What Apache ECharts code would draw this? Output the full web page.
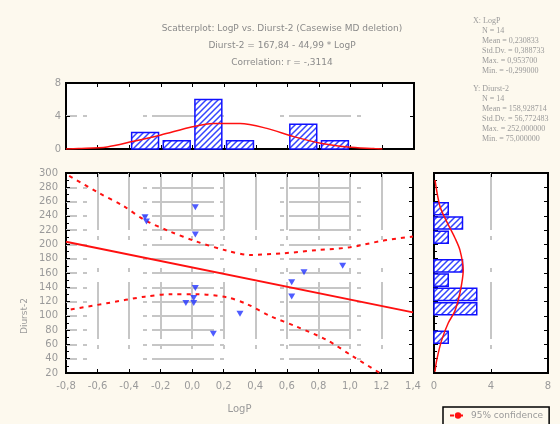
<!DOCTYPE html>
<html>
<head>
<meta charset="utf-8">
<script src="https://cdn.jsdelivr.net/npm/echarts@6/dist/echarts.min.js"></script>
<style>
  html, body { margin: 0; background: #fdf9ee; }
  #chart { width: 560px; height: 424px; }
</style>
</head>
<body>
<div id="chart"></div>
<script>
// scatter points (LogP, Diurst-2)
var logP    = [-0.299, -0.29, 0.02, 0.02, 0.02, -0.04, 0.01, 0.01, 0.134, 0.303, 0.631, 0.631, 0.709, 0.954];
var diurst2 = [238, 232, 252, 214, 139, 118, 118, 125, 75, 103, 147, 127, 161, 170];

// regression line end points and 95% confidence band
var fitX = [-0.8, 1.4];
var fitY = [203.8, 104.9];
var upperX = [-0.78, -0.595, -0.437, -0.30, -0.14, 0.029, 0.219, 0.367, 0.578, 0.79, 1.0, 1.21, 1.4];
var upperY = [296, 272.5, 253.9, 234, 218, 203.9, 191.3, 185.3, 187.6, 192, 196, 205.3, 211];
var lowerX = [-0.77, -0.542, -0.30, -0.14, 0.029, 0.219, 0.346, 0.494, 0.663, 0.853, 1.022, 1.19];
var lowerY = [109, 117.6, 126.9, 130.2, 130.2, 126, 116.6, 99.8, 84.8, 66.2, 42.8, 20];

// histogram of LogP (bins of 0.2)
var logPBinLo = [-0.8, -0.6, -0.4, -0.2, 0.0, 0.2, 0.4, 0.6, 0.8, 1.0, 1.2];
var logPCount = [0, 0, 2, 1, 6, 1, 0, 3, 1, 0, 0];
var logPCurveX = [-0.8, -0.72, -0.54, -0.38, -0.2, 0.0, 0.13, 0.30, 0.47, 0.64, 0.81, 0.98, 1.15, 1.2];
var logPCurveN = [0, 0.05, 0.25, 0.9, 1.7, 2.7, 3.1, 3.1, 2.5, 1.5, 0.7, 0.25, 0.05, 0];

// histogram of Diurst-2 (bins of 20)
var diuBinLo = [20, 40, 60, 80, 100, 120, 140, 160, 180, 200, 220, 240, 260, 280];
var diuCount = [0, 0, 1, 0, 3, 3, 1, 2, 0, 1, 2, 1, 0, 0];
var diuCurveY = [22, 38, 66, 90, 107, 132, 164, 192, 209, 232, 253, 290];
var diuCurveN = [0.07, 0.19, 0.54, 1.0, 1.47, 1.82, 2.05, 1.82, 1.47, 0.89, 0.42, 0.07];

var titleLines = [
  'Scatterplot: LogP vs. Diurst-2 (Casewise MD deletion)',
  'Diurst-2 = 167,84 - 44,99 * LogP',
  'Correlation: r = -,3114'
];
var statsX = ['N = 14', 'Mean = 0,230833', 'Std.Dv. = 0,388733', 'Max. = 0,953700', 'Min. = -0,299000'];
var statsY = ['N = 14', 'Mean = 158,928714', 'Std.Dv. = 56,772483', 'Max. = 252,000000', 'Min. = 75,000000'];

var GRAY = '#9a9a9a';
var FONT = 'DejaVu Sans';
var RED = '#ff1010';
var BLUE = '#2233ff';

// hatch fill for the histogram bars
var hatch = document.createElement('canvas');
hatch.width = hatch.height = 6;
(function () {
  var g = hatch.getContext('2d');
  g.fillStyle = '#fff';
  g.fillRect(0, 0, 6, 6);
  g.strokeStyle = '#3344ff';
  g.lineWidth = 1.5;
  g.beginPath();
  g.moveTo(0, 6); g.lineTo(6, 0);
  g.moveTo(-3, 3); g.lineTo(3, -3);
  g.moveTo(3, 9); g.lineTo(9, 3);
  g.stroke();
})();

function fmt1(v) {
  if (Math.abs(v) < 1e-9) v = 0;
  return v.toFixed(1).replace('.', ',');
}

var hGrid = { show: true, lineStyle: { color: '#c6c6c6', width: 2, type: [4, 5, 62, 6, 4, 56], dashOffset: 60 }, showMinLine: false, showMaxLine: false };
var vGrid = { show: true, lineStyle: { color: '#c6c6c6', width: 2, type: [57, 6, 4, 28, 4, 10], dashOffset: 0 }, showMinLine: false, showMaxLine: false };

function axis(extra) {
  var a = {
    type: 'value',
    axisLine: { show: false, onZero: false },
    axisLabel: { show: false },
    splitLine: { show: false },
    axisTick: { show: true, inside: true, length: 4, lineStyle: { color: '#000', width: 1 } }
  };
  for (var k in extra) a[k] = extra[k];
  return a;
}
function labels(extra) {
  var l = { show: true, color: GRAY, fontFamily: FONT, fontSize: 10, margin: 8 };
  for (var k in extra) l[k] = extra[k];
  return l;
}

function histItem(horizontal) {
  return function (params, api) {
    var lo = api.value(0), hi = api.value(1), n = api.value(2);
    if (!n) return null;
    var gap = 0.075 * (hi - lo);
    var p1, p2;
    if (horizontal) {
      p1 = api.coord([0, hi - gap]);
      p2 = api.coord([n, lo + gap]);
    } else {
      p1 = api.coord([lo + gap, n]);
      p2 = api.coord([hi - gap, 0]);
    }
    return {
      type: 'rect',
      shape: { x: p1[0], y: p1[1], width: p2[0] - p1[0], height: p2[1] - p1[1] },
      style: { fill: { image: hatch, repeat: 'repeat' }, stroke: '#1010ff', lineWidth: 1.5 }
    };
  };
}

function zip(a, b) {
  return a.map(function (v, i) { return [v, b[i]]; });
}

var logPBins = logPBinLo.map(function (lo, i) { return [lo, lo + 0.2, logPCount[i]]; });
var diuBins = diuBinLo.map(function (lo, i) { return [lo, lo + 20, diuCount[i]]; });

var gridBase = { show: true, backgroundColor: '#fff', borderColor: '#000', borderWidth: 2, outerBoundsMode: 'none' };
function grid(l, t, w, h) {
  var g = { left: l, top: t, width: w, height: h };
  for (var k in gridBase) g[k] = gridBase[k];
  return g;
}

var chart = echarts.init(document.getElementById('chart'));
chart.setOption({
  backgroundColor: '#fdf9ee',
  animation: false,
  grid: [
    grid(66, 83, 348, 66),
    grid(66, 173, 347, 200),
    grid(434, 173, 114, 200)
  ],
  xAxis: [
    axis({ gridIndex: 0, min: -0.8, max: 1.4, interval: 0.2 }),
    axis({ gridIndex: 0, position: 'top', min: -0.8, max: 1.4, interval: 0.2 }),
    axis({
      gridIndex: 1, min: -0.8, max: 1.4, interval: 0.2,
      axisLabel: labels({ formatter: fmt1 }),
      splitLine: vGrid,
      name: 'LogP', nameLocation: 'middle', nameGap: 31,
      nameTextStyle: { color: GRAY, fontFamily: FONT, fontSize: 10 }
    }),
    axis({ gridIndex: 1, position: 'top', min: -0.8, max: 1.4, interval: 0.2 }),
    axis({ gridIndex: 2, min: 0, max: 8, interval: 4, axisLabel: labels({}), splitLine: vGrid }),
    axis({ gridIndex: 2, position: 'top', min: 0, max: 8, interval: 4 })
  ],
  yAxis: [
    axis({ gridIndex: 0, min: 0, max: 8, interval: 4, axisLabel: labels({ margin: 5 }), splitLine: hGrid }),
    axis({ gridIndex: 0, position: 'right', min: 0, max: 8, interval: 4 }),
    axis({
      gridIndex: 1, min: 20, max: 300, interval: 20,
      axisLabel: labels({}),
      splitLine: hGrid,
      minorTick: { show: true, splitNumber: 2, length: 3, lineStyle: { color: '#000' } }
    }),
    axis({ gridIndex: 1, position: 'right', min: 20, max: 300, interval: 20 }),
    axis({
      gridIndex: 2, min: 20, max: 300, interval: 20,
      minorTick: { show: true, splitNumber: 2, length: 3, lineStyle: { color: '#000' } }
    }),
    axis({ gridIndex: 2, position: 'right', min: 20, max: 300, interval: 20 })
  ],
  legend: {
    data: ['95% confidence'],
    left: 443, top: 407,
    padding: [4, 6, 8, 6],
    itemWidth: 16, itemHeight: 8,
    selectedMode: false,
    borderColor: '#000', borderWidth: 1.5,
    textStyle: { color: GRAY, fontFamily: FONT, fontSize: 9 }
  },
  graphic: [
    {
      type: 'text', x: 282, y: 20,
      style: { text: titleLines.join('\n'), align: 'center', verticalAlign: 'top', lineHeight: 17,
               fill: '#8a8a8a', font: '9px "DejaVu Sans"' }
    },
    {
      type: 'text', x: 473, y: 16,
      style: { text: 'X: LogP', fill: GRAY, font: '8px "Liberation Serif"', lineHeight: 10 }
    },
    {
      type: 'text', x: 482, y: 26,
      style: { text: statsX.join('\n'), fill: GRAY, font: '8px "Liberation Serif"', lineHeight: 10 }
    },
    {
      type: 'text', x: 473, y: 84,
      style: { text: 'Y: Diurst-2', fill: GRAY, font: '8px "Liberation Serif"', lineHeight: 10 }
    },
    {
      type: 'text', x: 482, y: 94,
      style: { text: statsY.join('\n'), fill: GRAY, font: '8px "Liberation Serif"', lineHeight: 10 }
    },
    {
      type: 'text', x: 25, y: 316, rotation: Math.PI / 2,
      style: { text: 'Diurst-2', align: 'center', verticalAlign: 'middle', fill: GRAY, font: '9px "DejaVu Sans"' }
    }
  ],
  series: [
    {
      type: 'custom', xAxisIndex: 0, yAxisIndex: 0,
      renderItem: histItem(false), data: logPBins
    },
    {
      type: 'line', xAxisIndex: 0, yAxisIndex: 0, smooth: 0.3, symbol: 'none',
      lineStyle: { color: RED, width: 1.5 }, data: zip(logPCurveX, logPCurveN)
    },
    {
      type: 'custom', xAxisIndex: 4, yAxisIndex: 4,
      renderItem: histItem(true), data: diuBins
    },
    {
      type: 'line', xAxisIndex: 4, yAxisIndex: 4, smooth: 0.3, symbol: 'none',
      lineStyle: { color: RED, width: 1.5 }, data: zip(diuCurveN, diuCurveY)
    },
    {
      type: 'line', xAxisIndex: 2, yAxisIndex: 2, symbol: 'none',
      lineStyle: { color: RED, width: 2 }, data: zip(fitX, fitY)
    },
    {
      name: '95% confidence',
      type: 'line', xAxisIndex: 2, yAxisIndex: 2, smooth: 0.3, symbol: 'none',
      itemStyle: { color: RED },
      lineStyle: { color: RED, width: 2, type: [4, 5] }, data: zip(upperX, upperY)
    },
    {
      name: '95% confidence',
      type: 'line', xAxisIndex: 2, yAxisIndex: 2, smooth: 0.3, symbol: 'none',
      itemStyle: { color: RED },
      lineStyle: { color: RED, width: 2, type: [4, 5] }, data: zip(lowerX, lowerY)
    },
    {
      type: 'scatter', xAxisIndex: 2, yAxisIndex: 2,
      symbol: 'triangle', symbolRotate: 180, symbolSize: [7, 6],
      itemStyle: { color: BLUE }, data: zip(logP, diurst2), z: 5
    }
  ]
});
</script>
</body>
</html>
